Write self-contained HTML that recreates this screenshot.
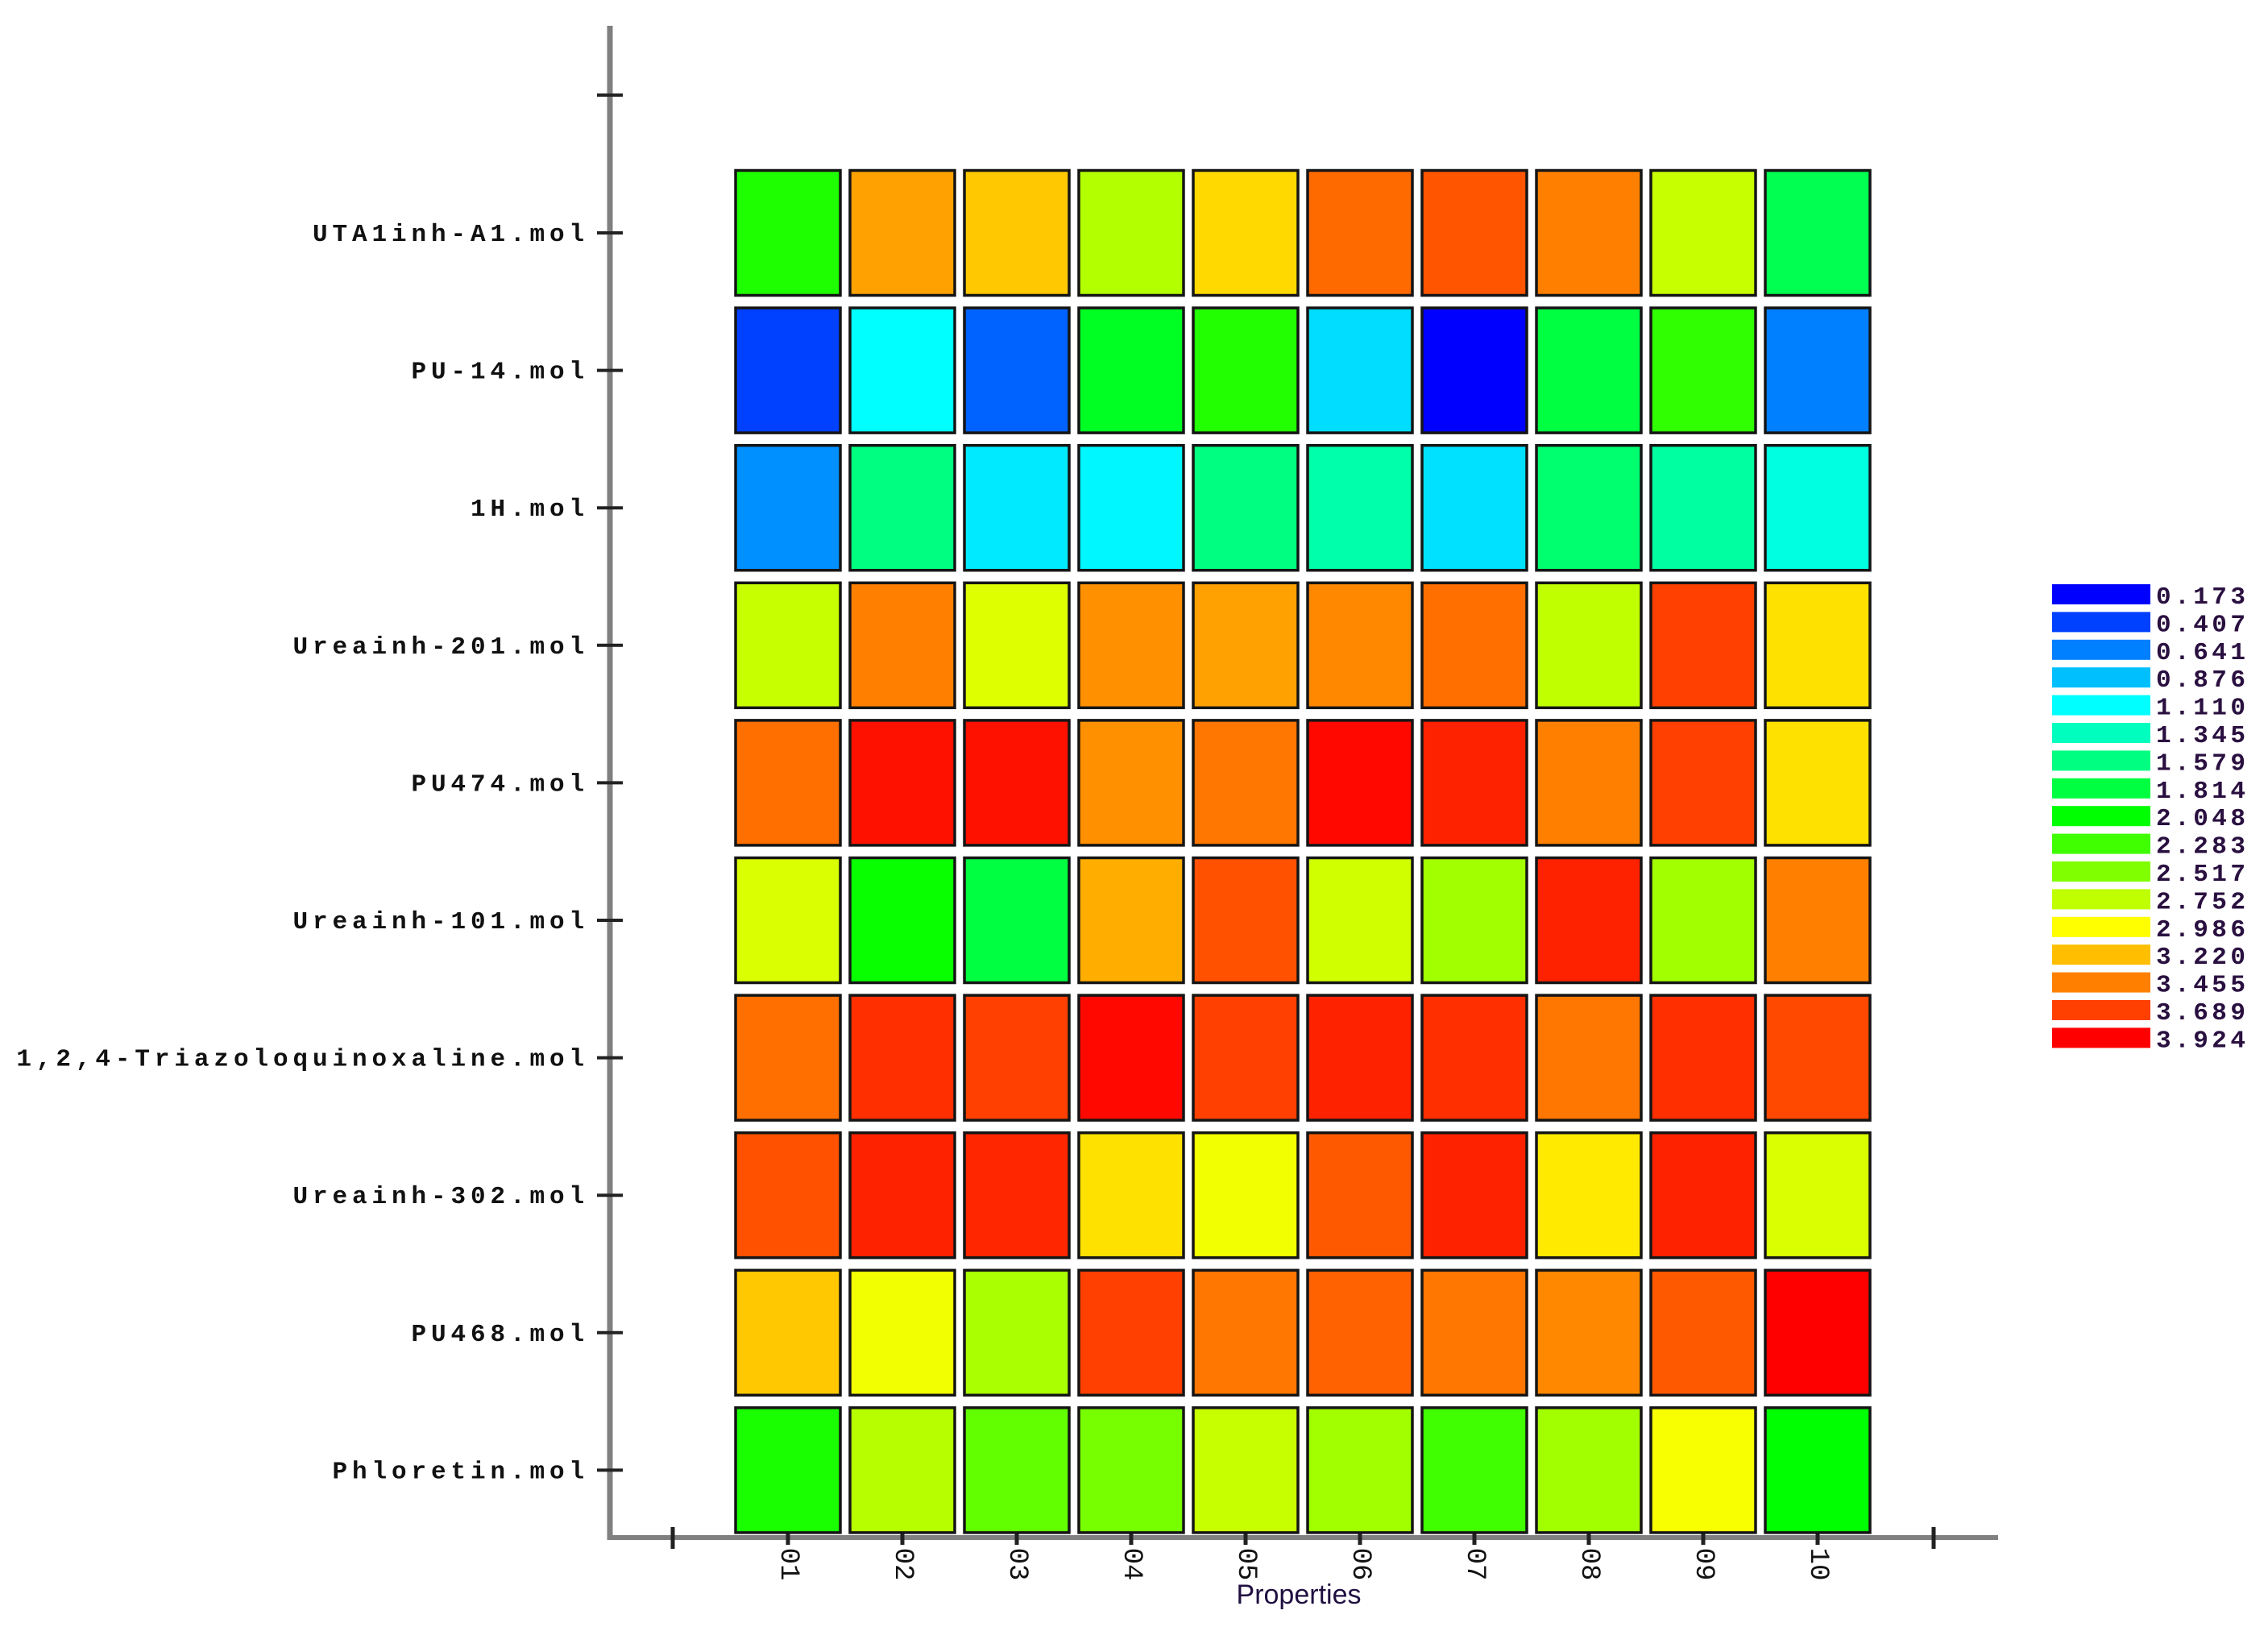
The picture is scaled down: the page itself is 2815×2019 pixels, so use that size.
<!DOCTYPE html>
<html><head><meta charset="utf-8"><style>
html,body{margin:0;padding:0;background:#fff;}
svg{display:block;}
.yl{font-family:"Liberation Mono",monospace;font-size:31px;letter-spacing:5.9px;fill:#111;font-weight:bold;}
.xl{font-family:"Liberation Mono",monospace;font-size:34px;fill:#111;}
.lg{font-family:"Liberation Mono",monospace;font-size:31px;letter-spacing:4.5px;fill:#2a1040;font-weight:bold;}
</style></head><body>
<svg id="chart" width="2815" height="2019" viewBox="0 0 2815 2019" xmlns="http://www.w3.org/2000/svg">
<g id="axes"></g><g id="cells"></g><g id="legend"></g>
</svg>
<script>
const molecules = ["UTA1inh-A1.mol","PU-14.mol","1H.mol","Ureainh-201.mol","PU474.mol","Ureainh-101.mol","1,2,4-Triazoloquinoxaline.mol","Ureainh-302.mol","PU468.mol","Phloretin.mol"];
const properties = ["01","02","03","04","05","06","07","08","09","10"];
const row0 = [2.158,3.330,3.189,2.705,3.127,3.533,3.611,3.455,2.783,1.751];
const row1 = [0.407,1.110,0.532,1.923,2.174,0.986,0.173,1.814,2.220,0.641];
const row2 = [0.704,1.579,1.032,1.079,1.579,1.423,1.001,1.642,1.454,1.220];
const row3 = [2.783,3.455,2.861,3.393,3.330,3.424,3.518,2.752,3.689,3.096];
const row4 = [3.518,3.861,3.861,3.393,3.486,3.893,3.799,3.455,3.689,3.096];
const row5 = [2.846,2.080,1.814,3.283,3.627,2.814,2.642,3.799,2.642,3.455];
const row6 = [3.518,3.752,3.689,3.893,3.689,3.799,3.752,3.486,3.752,3.658];
const row7 = [3.627,3.799,3.783,3.096,2.939,3.596,3.799,3.064,3.799,2.846];
const row8 = [3.189,2.939,2.674,3.689,3.486,3.565,3.486,3.424,3.596,3.924];
const row9 = [2.142,2.721,2.408,2.486,2.783,2.642,2.283,2.642,2.955,2.048];
const values = [row0,row1,row2,row3,row4,row5,row6,row7,row8,row9];
const legendTicks = [0.173,0.407,0.641,0.876,1.110,1.345,1.579,1.814,2.048,2.283,2.517,2.752,2.986,3.220,3.455,3.689,3.924];

const NS="http://www.w3.org/2000/svg";
const vMin=0.173, vMax=3.924;
function color(v){const h=240*(vMax-v)/(vMax-vMin);return `hsl(${Math.max(0,Math.min(240,h)).toFixed(1)},100%,50%)`;}
function xPos(i){return 978+i*142;}
function yPos(j){return 289+j*170.6;}
const cw=130, ch=155;
function mk(tag,attrs,parent){const e=document.createElementNS(NS,tag);for(const k in attrs)e.setAttribute(k,attrs[k]);parent.appendChild(e);return e;}
const axes=document.getElementById('axes'),cells=document.getElementById('cells'),legend=document.getElementById('legend');

let e=mk('line',{x1:757,y1:32,x2:757,y2:1911,stroke:'#808080','stroke-width':7},axes);


e=mk('line',{x1:754,y1:1908,x2:2480,y2:1908,stroke:'#808080','stroke-width':6},axes);


e=mk('line',{x1:741,y1:118,x2:773,y2:118,stroke:'#222','stroke-width':4},axes);


[835,2400].forEach(x=>{
  const t=mk('line',{x1:x,y1:1895,x2:x,y2:1922,stroke:'#222','stroke-width':5},axes);
  
  
});
molecules.forEach((m,j)=>{
  const y=yPos(j);
  const t=mk('line',{x1:741,y1:y,x2:773,y2:y,stroke:'#222','stroke-width':4},axes);
  
  
  const l=mk('text',{x:731,y:y+10,'text-anchor':'end',class:'yl'},axes);
  l.textContent=m;
  
  
});
properties.forEach((p,i)=>{
  const x=xPos(i);
  const t=mk('line',{x1:x,y1:1900,x2:x,y2:1917,stroke:'#222','stroke-width':5},axes);
  
  
  const l=mk('text',{x:x,y:1941,'text-anchor':'middle','dominant-baseline':'central',class:'xl',transform:`rotate(90 ${x} 1941)`},axes);
  l.textContent=p;
  
  
});
e=mk('text',{x:1612,y:1990,'text-anchor':'middle','font-family':'"Liberation Sans",sans-serif','font-size':34,fill:'#201040'},axes);
e.textContent='Properties';



values.forEach((row,j)=>{
  row.forEach((v,i)=>{
    const r=mk('rect',{x:xPos(i)-cw/2,y:yPos(j)-ch/2,width:cw,height:ch,fill:color(v),stroke:'#151515','stroke-width':3.5},cells);
    
    
  });
});

legendTicks.forEach((v,k)=>{
  const y=725+k*34.4;
  const r=mk('rect',{x:2547,y:y,width:122,height:25,fill:color(v)},legend);
  
  
  const t=mk('text',{x:2676,y:y+24,class:'lg'},legend);
  t.textContent=v.toFixed(3);
  
  
});
</script>
</body></html>
